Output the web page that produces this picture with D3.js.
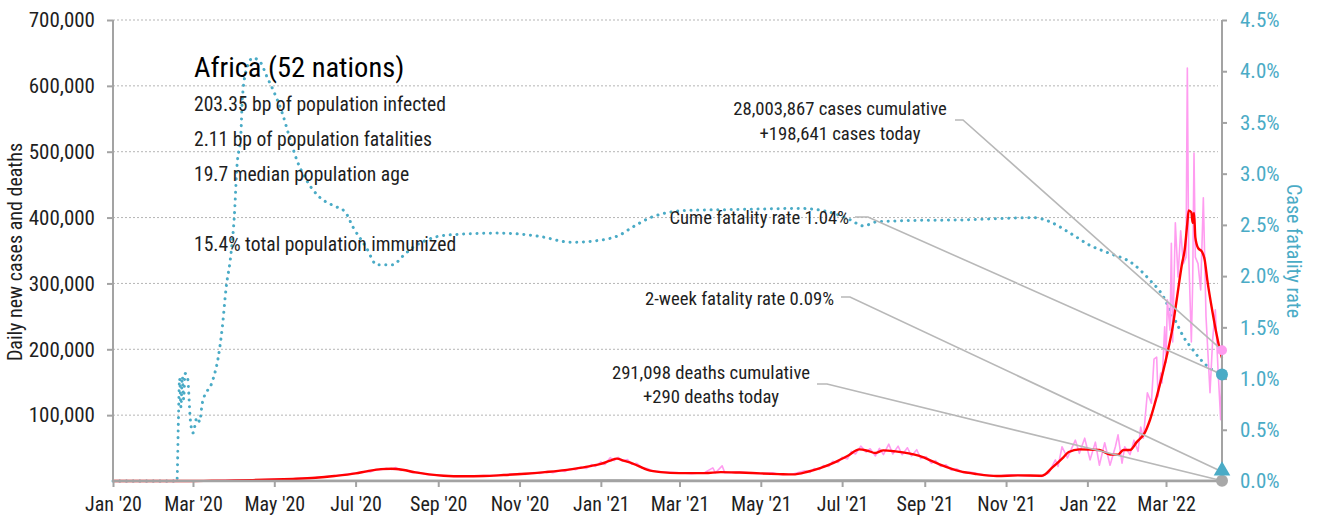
<!DOCTYPE html>
<html>
<head>
<meta charset="utf-8">
<script src="https://cdn.jsdelivr.net/npm/d3@7"></script>
<style>
  html, body { margin: 0; padding: 0; background: #fff; }
  svg { display: block; }
  text { font-family: "Liberation Sans Narrow", "Roboto Condensed", "DejaVu Sans Condensed", sans-serif; }
</style>
</head>
<body>
<svg id="chart" width="1319" height="520"></svg>
<script>
// ---- Daily new cases (raw reports) ----
const dailyDates = ["2020-01-01","2020-02-15","2020-03-01","2020-03-15","2020-04-01","2020-04-15","2020-05-01","2020-05-15","2020-06-01","2020-06-15","2020-07-01","2020-07-08","2020-07-12","2020-07-16","2020-07-20","2020-07-24","2020-07-28","2020-07-31","2020-08-04","2020-08-08","2020-08-12","2020-08-16","2020-08-22","2020-09-01","2020-09-15","2020-10-01","2020-10-15","2020-11-01","2020-11-05","2020-11-12","2020-11-16","2020-11-22","2020-11-26","2020-12-01","2020-12-05","2020-12-09","2020-12-13","2020-12-17","2020-12-21","2020-12-25","2020-12-28","2021-01-01","2021-01-04","2021-01-08","2021-01-11","2021-01-14","2021-01-17","2021-01-21","2021-01-24","2021-01-28","2021-02-01","2021-02-05","2021-02-09","2021-02-15","2021-03-01","2021-03-10","2021-03-20","2021-03-26","2021-03-28","2021-04-02","2021-04-04","2021-04-15","2021-05-01","2021-05-10","2021-05-15","2021-05-25","2021-06-03","2021-06-07","2021-06-10","2021-06-14","2021-06-17","2021-06-21","2021-06-24","2021-06-28","2021-07-01","2021-07-05","2021-07-08","2021-07-11","2021-07-15","2021-07-19","2021-07-22","2021-07-26","2021-07-29","2021-08-01","2021-08-05","2021-08-08","2021-08-12","2021-08-15","2021-08-19","2021-08-22","2021-08-26","2021-08-29","2021-09-02","2021-09-06","2021-09-09","2021-09-13","2021-09-17","2021-09-21","2021-09-25","2021-09-30","2021-10-05","2021-10-15","2021-10-25","2021-11-05","2021-11-15","2021-11-28","2021-12-03","2021-12-08","2021-12-10","2021-12-13","2021-12-17","2021-12-23","2021-12-26","2021-12-30","2022-01-03","2022-01-07","2022-01-10","2022-01-14","2022-01-18","2022-01-22","2022-01-24","2022-01-27","2022-01-29","2022-02-02","2022-02-05","2022-02-08","2022-02-10","2022-02-12","2022-02-15","2022-02-18","2022-02-20","2022-02-22","2022-02-23","2022-02-25","2022-02-26","2022-02-28","2022-03-01","2022-03-02","2022-03-04","2022-03-05","2022-03-06","2022-03-08","2022-03-10","2022-03-12","2022-03-14","2022-03-16","2022-03-17","2022-03-18","2022-03-20","2022-03-21","2022-03-22","2022-03-23","2022-03-25","2022-03-27","2022-03-29","2022-03-31","2022-04-03","2022-04-05","2022-04-07","2022-04-09","2022-04-11","2022-04-12"];
const dailyCases = [0,0,150,350,1000,1500,2400,3500,5200,8000,12000,14500,13800,17500,17000,19500,17500,20500,16000,17000,13000,13500,10500,8500,7000,7800,8500,11500,10000,13000,11500,14500,12500,15500,14500,18500,17000,21500,19000,25000,22000,29000,25000,35500,31000,36000,30500,32500,25500,27000,19500,19000,15000,14000,12500,11000,13000,20000,12500,23000,12500,13500,11000,12500,10000,10500,15500,13000,19000,17500,23500,22000,30000,28000,36000,33500,45000,41000,53000,44000,49000,38000,49500,40000,56000,41000,53000,40000,50500,38000,47500,34000,37000,27000,31000,22000,24500,16500,18500,12500,13500,9500,7500,9500,8000,7000,12000,32000,22000,52000,35000,62000,42000,65000,32000,59000,24000,58000,24000,52000,70000,27000,52000,40000,62000,45000,82000,65000,134000,118000,185000,188000,128000,164000,149000,234000,180000,275000,229000,361000,211000,392000,310000,380000,330000,340000,627000,345000,211000,300000,498000,340000,330000,290000,430000,250000,134000,215000,260000,170000,93000,198641];

// ---- Seven-day average of new cases ----
const avgDates = ["2020-01-01","2020-02-15","2020-03-01","2020-03-15","2020-04-01","2020-04-15","2020-05-01","2020-05-15","2020-06-01","2020-06-15","2020-07-01","2020-07-10","2020-07-20","2020-07-28","2020-08-05","2020-08-15","2020-08-25","2020-09-05","2020-09-20","2020-10-05","2020-10-20","2020-11-05","2020-11-20","2020-12-05","2020-12-15","2020-12-25","2021-01-01","2021-01-08","2021-01-13","2021-01-18","2021-01-25","2021-02-05","2021-02-15","2021-03-01","2021-03-20","2021-04-01","2021-04-15","2021-05-01","2021-05-15","2021-05-25","2021-06-05","2021-06-15","2021-06-25","2021-07-05","2021-07-14","2021-07-20","2021-07-26","2021-08-01","2021-08-10","2021-08-20","2021-08-28","2021-09-10","2021-09-27","2021-10-10","2021-10-25","2021-11-10","2021-11-28","2021-12-06","2021-12-14","2021-12-18","2021-12-26","2022-01-10","2022-01-18","2022-01-24","2022-01-28","2022-02-02","2022-02-07","2022-02-13","2022-02-17","2022-02-22","2022-02-27","2022-03-02","2022-03-06","2022-03-09","2022-03-13","2022-03-15","2022-03-17","2022-03-18","2022-03-20","2022-03-21","2022-03-22","2022-03-23","2022-03-25","2022-03-28","2022-03-30","2022-04-01","2022-04-05","2022-04-08","2022-04-10","2022-04-12"];
const avgCases = [0,0,100,300,900,1400,2300,3300,5000,7500,11500,15000,18000,18500,17000,13000,10000,8000,7200,7500,9000,11000,13500,16500,19500,23000,26000,31000,34000,31000,26500,17000,13500,12000,12000,13500,12800,11500,10500,10000,14000,20000,28000,38000,48000,46000,42500,46500,45000,42000,38000,27000,15000,10500,7600,8500,8000,21000,36000,44000,48000,47000,40000,40000,47000,47000,59000,73000,93000,128000,168000,194000,234000,275000,330000,351000,392000,411000,408000,392000,407000,370000,354000,348000,336000,305000,255000,222000,203000,187000];

// ---- Seven-day average of deaths ----
const deathDates = ["2020-01-01","2020-03-15","2020-05-01","2020-07-25","2020-10-01","2021-01-15","2021-04-01","2021-07-20","2021-10-15","2022-01-10","2022-04-12"];
const avgDeaths = [0,10,80,450,200,1100,300,1200,250,400,290];

// ---- Case fatality rate (%) ----
const cfrDates = ["2020-01-01","2020-02-18","2020-02-19","2020-02-20","2020-02-21","2020-02-22","2020-02-23","2020-02-24","2020-02-26","2020-02-28","2020-03-01","2020-03-04","2020-03-06","2020-03-08","2020-03-16","2020-03-20","2020-03-23","2020-03-26","2020-03-29","2020-04-01","2020-04-03","2020-04-06","2020-04-07","2020-04-10","2020-04-15","2020-04-21","2020-04-25","2020-04-30","2020-05-07","2020-05-13","2020-05-18","2020-05-25","2020-06-04","2020-06-14","2020-06-23","2020-06-29","2020-07-09","2020-07-17","2020-07-29","2020-08-05","2020-08-13","2020-08-23","2020-09-07","2020-10-17","2020-11-15","2020-12-10","2020-12-31","2021-01-15","2021-01-25","2021-02-07","2021-02-20","2021-03-04","2021-04-11","2021-05-31","2021-06-20","2021-07-07","2021-07-17","2021-07-27","2021-08-13","2021-10-03","2021-11-22","2021-12-04","2021-12-19","2022-01-03","2022-01-18","2022-02-02","2022-02-17","2022-02-27","2022-03-04","2022-03-09","2022-03-14","2022-03-20","2022-03-26","2022-04-02","2022-04-12"];
const cfrValues = [0,0,0.55,1.00,0.72,1.02,0.80,1.05,1.00,0.60,0.47,0.62,0.58,0.76,0.99,1.21,1.50,1.90,2.16,2.58,3.07,3.40,3.72,4.01,4.13,4.08,3.96,3.82,3.59,3.33,3.13,2.94,2.77,2.69,2.63,2.48,2.28,2.11,2.11,2.19,2.28,2.35,2.40,2.42,2.39,2.33,2.35,2.40,2.48,2.57,2.62,2.64,2.65,2.66,2.63,2.55,2.49,2.53,2.54,2.55,2.57,2.53,2.42,2.30,2.22,2.14,1.96,1.80,1.67,1.54,1.41,1.30,1.20,1.11,1.04];

// ---- Axis ticks ----
const caseTicks = [100000, 200000, 300000, 400000, 500000, 600000, 700000];
const rateTicks = [0, 0.5, 1.0, 1.5, 2.0, 2.5, 3.0, 3.5, 4.0, 4.5];
const monthTickDates = ["2020-01-01","2020-03-01","2020-05-01","2020-07-01","2020-09-01","2020-11-01","2021-01-01","2021-03-01","2021-05-01","2021-07-01","2021-09-01","2021-11-01","2022-01-01","2022-03-01"];
const monthTickLabels = ["Jan '20","Mar '20","May '20","Jul '20","Sep '20","Nov '20","Jan '21","Mar '21","May '21","Jul '21","Sep '21","Nov '21","Jan '22","Mar '22"];

// ---- Text ----
const titleText = "Africa (52 nations)";
const statLines = ["203.35 bp of population infected", "2.11 bp of population fatalities", "19.7 median population age", "", "15.4% total population immunized"];
const latestCases = 198641, latestDeaths = 290, cumeRate = 1.04, twoWeekRate = 0.09;
const casesNote = ["28,003,867 cases cumulative", "+198,641 cases today"];
const deathsNote = ["291,098 deaths cumulative", "+290 deaths today"];
const cumeNote = "Cume fatality rate 1.04%";
const twoWeekNote = "2-week fatality rate 0.09%";

// ---- Styling ----
const TEAL = "#4aabc6", PINK = "#ff9cf0", RED = "#ff0000", AXIS = "#a3a3a3", LEADER = "#b8b8b8", INK = "#1e1e1e";

const parse = d3.utcParse("%Y-%m-%d");
const svg = d3.select("#chart");
const plotLeft = 113, plotRight = 1222, plotTop = 20, plotBottom = 481;

const x = d3.scaleUtc().domain([parse(dailyDates[0]), parse(dailyDates[dailyDates.length - 1])]).range([plotLeft, plotRight]);
const y = d3.scaleLinear().domain([0, 700000]).range([plotBottom, plotTop]);
const yR = d3.scaleLinear().domain([0, 4.5]).range([plotBottom, plotTop]);

// gridlines
svg.append("g").selectAll("line").data(caseTicks).join("line")
  .attr("x1", plotLeft).attr("x2", plotRight - 4)
  .attr("y1", d => y(d)).attr("y2", d => y(d))
  .attr("stroke", "#b5b5b5").attr("stroke-width", 1).attr("stroke-dasharray", "2,2");

// case fatality rate (dotted)
const cfr = cfrDates.map((d, i) => ({ date: parse(d), v: cfrValues[i] }));
svg.append("path").datum(cfr)
  .attr("fill", "none").attr("stroke", TEAL).attr("stroke-width", 3)
  .attr("stroke-linecap", "round").attr("stroke-dasharray", "0.1,6.6")
  .attr("d", d3.line().x(d => x(d.date)).y(d => yR(d.v)).curve(d3.curveMonotoneX));

// daily cases
const daily = dailyDates.map((d, i) => ({ date: parse(d), v: dailyCases[i] }));
svg.append("path").datum(daily)
  .attr("fill", "none").attr("stroke", PINK).attr("stroke-width", 1.6)
  .attr("stroke-linejoin", "round")
  .attr("d", d3.line().x(d => x(d.date)).y(d => y(d.v)));

// seven-day average
const avg = avgDates.map((d, i) => ({ date: parse(d), v: avgCases[i] }));
svg.append("path").datum(avg)
  .attr("fill", "none").attr("stroke", RED).attr("stroke-width", 2.4)
  .attr("stroke-linejoin", "round")
  .attr("d", d3.line().x(d => x(d.date)).y(d => y(d.v)).curve(d3.curveMonotoneX));

// deaths
const deaths = deathDates.map((d, i) => ({ date: parse(d), v: avgDeaths[i] }));
svg.append("path").datum(deaths)
  .attr("fill", "none").attr("stroke", "#9a9a9a").attr("stroke-width", 2)
  .attr("d", d3.line().x(d => x(d.date)).y(d => y(d.v)).curve(d3.curveMonotoneX));

// axes
const leftAxis = svg.append("g").attr("transform", `translate(${plotLeft},0)`)
  .call(d3.axisLeft(y).tickValues(caseTicks).tickFormat(d3.format(",")).tickSize(6).tickPadding(12));
const rightAxis = svg.append("g").attr("transform", `translate(${plotRight},0)`)
  .call(d3.axisRight(yR).tickValues(rateTicks).tickFormat(d => d.toFixed(1) + "%").tickSize(5).tickPadding(13));
const bottomAxis = svg.append("g").attr("transform", `translate(0,${plotBottom})`)
  .call(d3.axisBottom(x).tickValues(monthTickDates.map(parse)).tickFormat((d, i) => monthTickLabels[i]).tickSize(6));

[leftAxis, rightAxis, bottomAxis].forEach(g => {
  g.select(".domain").remove();
  g.selectAll(".tick line").attr("stroke", AXIS).attr("stroke-width", 2);
  g.selectAll(".tick text").attr("font-size", 21).attr("fill", INK);
});
rightAxis.selectAll(".tick text").attr("fill", TEAL);
bottomAxis.selectAll(".tick text").attr("y", 30).attr("dy", 0).attr("font-size", 20);

svg.append("line").attr("x1", plotLeft).attr("x2", plotLeft).attr("y1", plotTop).attr("y2", plotBottom + 1).attr("stroke", AXIS).attr("stroke-width", 2);
svg.append("line").attr("x1", plotRight).attr("x2", plotRight).attr("y1", plotTop).attr("y2", plotBottom + 1).attr("stroke", AXIS).attr("stroke-width", 2);
svg.append("line").attr("x1", plotLeft).attr("x2", plotRight).attr("y1", plotBottom).attr("y2", plotBottom).attr("stroke", AXIS).attr("stroke-width", 2.5);

// axis titles
svg.append("text").attr("transform", "translate(22,252) rotate(-90)")
  .attr("text-anchor", "middle").attr("font-size", 20).attr("fill", INK)
  .text("Daily new cases and deaths");
svg.append("text").attr("transform", "translate(1287,251) rotate(90)")
  .attr("text-anchor", "middle").attr("font-size", 20).attr("fill", TEAL)
  .text("Case fatality rate");

// title block
svg.append("text").attr("x", 194).attr("y", 77).attr("font-size", 28.5).attr("fill", "#000").text(titleText);
svg.append("g").selectAll("text").data(statLines).join("text")
  .attr("x", 194).attr("y", (d, i) => 111 + i * 35)
  .attr("font-size", 19.6).attr("fill", INK).text(d => d);

// leader lines and end markers
const endX = plotRight;
const leaders = [
  { pts: [[955, 120], [963, 120], [endX, y(latestCases)]] },
  { pts: [[855, 217], [868, 217], [endX, yR(cumeRate)]] },
  { pts: [[841, 297], [850, 297], [endX, yR(twoWeekRate)]] },
  { pts: [[817, 384], [827, 384], [endX, y(latestDeaths)]] }
];
svg.append("g").selectAll("path").data(leaders).join("path")
  .attr("fill", "none").attr("stroke", LEADER).attr("stroke-width", 1.6)
  .attr("d", d => d3.line()(d.pts));

svg.append("circle").attr("cx", endX).attr("cy", y(latestDeaths)).attr("r", 6).attr("fill", "#a8a8a8");
svg.append("path").attr("transform", `translate(${endX},${yR(twoWeekRate) - 1})`)
  .attr("d", d3.symbol(d3.symbolTriangle, 120)()).attr("fill", TEAL);
svg.append("circle").attr("cx", endX).attr("cy", yR(cumeRate)).attr("r", 6).attr("fill", TEAL);
svg.append("circle").attr("cx", endX).attr("cy", y(latestCases)).attr("r", 5).attr("fill", PINK);

// annotations
const notes = svg.append("g").attr("font-size", 18.7).attr("fill", INK);
notes.selectAll("text.c").data(casesNote).join("text").attr("class", "c")
  .attr("x", 840).attr("y", (d, i) => 115 + i * 25).attr("text-anchor", "middle").text(d => d);
notes.append("text").attr("x", 849).attr("y", 224).attr("text-anchor", "end").text(cumeNote);
notes.append("text").attr("x", 834).attr("y", 305).attr("text-anchor", "end").text(twoWeekNote);
notes.selectAll("text.d").data(deathsNote).join("text").attr("class", "d")
  .attr("x", 711).attr("y", (d, i) => 379 + i * 24).attr("text-anchor", "middle").text(d => d);
</script>
</body>
</html>
